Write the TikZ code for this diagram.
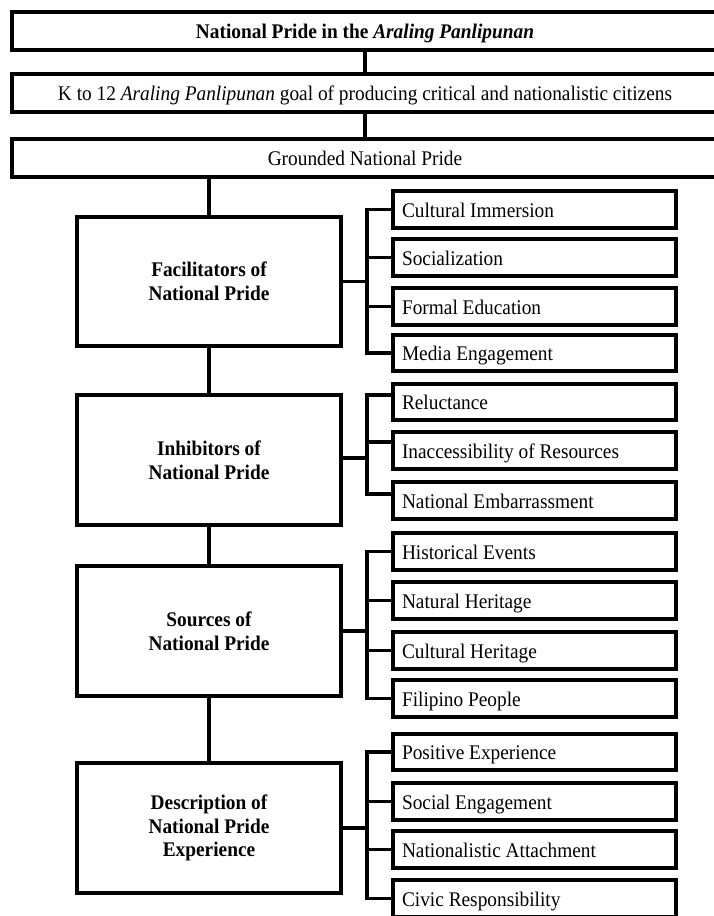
\documentclass[tikz,border=0pt]{standalone}
\usepackage{fontspec}
\setmainfont[FakeStretch=0.93]{Liberation Serif}
\begin{document}
\begin{tikzpicture}[x=1pt,y=-1pt,
  box/.style={draw=black, line width=4pt, fill=white, inner sep=0pt,
    font=\fontsize{20.8}{23.6}\selectfont},
  topbox/.style={box, minimum width=706pt, minimum height=38pt,
    text height=18pt, text depth=3pt},
  mainbox/.style={box, minimum width=264pt, minimum height=130pt, align=center,
    font=\fontsize{20.8}{23.6}\selectfont\bfseries},
  childbox/.style={box, text width=265pt, inner xsep=9pt, align=flush left,
    minimum height=37pt, text height=18pt, text depth=3pt},
  conn/.style={draw=black, line width=4pt},
  brk/.style={draw=black, line width=3.3pt}
]
\useasboundingbox (0,0) rectangle (714,916);
\fill[white] (0,0) rectangle (714,916);

% top boxes
\node[topbox] (t1) at (365,30.5) {\textbf{National Pride in the \textit{Araling Panlipunan}}};
\node[topbox] (t2) at (365,93) {K to 12 \textit{Araling Panlipunan} goal of producing critical and nationalistic citizens};
\node[topbox] (t3) at (365,157.5) {Grounded National Pride};

% main boxes
\node[mainbox, minimum height=129pt] (fac) at (209,281.5) {Facilitators of\\National Pride};
\node[mainbox] (inh) at (209,460) {Inhibitors of\\National Pride};
\node[mainbox] (src) at (209,631) {Sources of\\National Pride};
\node[mainbox] (des) at (209,828) {Description of\\National Pride\\Experience};

% child boxes
\node[childbox] (ci) at (534.5,209.5) {Cultural Immersion};
\node[childbox] (so) at (534.5,257.5) {Socialization};
\node[childbox] (fe) at (534.5,306.5) {Formal Education};
\node[childbox, minimum height=36pt] (me) at (534.5,353) {Media Engagement};
\node[childbox, minimum height=36pt] (re) at (534.5,402) {Reluctance};
\node[childbox] (ia) at (534.5,450.5) {Inaccessibility of Resources};
\node[childbox] (ne) at (534.5,500.5) {National Embarrassment};
\node[childbox] (he) at (534.5,551.5) {Historical Events};
\node[childbox] (nh) at (534.5,600.5) {Natural Heritage};
\node[childbox] (ch) at (534.5,650.5) {Cultural Heritage};
\node[childbox] (fp) at (534.5,698.5) {Filipino People};
\node[childbox, minimum height=36pt] (pe) at (534.5,752) {Positive Experience};
\node[childbox] (se) at (534.5,801.5) {Social Engagement};
\node[childbox] (na) at (534.5,849.5) {Nationalistic Attachment};
\node[childbox] (cr) at (534.5,898.5) {Civic Responsibility};

\coordinate (bx) at (367,0);

% vertical spine
\draw[conn] (t1.south) -- (t2.north);
\draw[conn] (t2.south) -- (t3.north);
\draw[conn] (t3.south -| fac.north) -- (fac.north);
\draw[conn] (fac.south) -- (inh.north);
\draw[conn] (inh.south) -- (src.north);
\draw[conn] (src.south) -- (des.north);

% facilitators bracket
\draw[brk] (fac.east) -- (fac.east -| bx);
\draw[brk] (ci.west) -- (ci.west -| bx) -- (me.west -| bx) -- (me.west);
\draw[brk] (so.west) -- (so.west -| bx);
\draw[brk] (fe.west) -- (fe.west -| bx);

% inhibitors bracket
\draw[brk] ([yshift=2pt]inh.east) -- ([yshift=2pt]inh.east -| bx);
\draw[brk] ([yshift=7pt]re.west) -- ([yshift=7pt]re.west -| bx) -- ([yshift=6.5pt]ne.west -| bx) -- ([yshift=6.5pt]ne.west);
\draw[brk] ([yshift=8.5pt]ia.west) -- ([yshift=8.5pt]ia.west -| bx);

% sources bracket
\draw[brk] (src.east) -- (src.east -| bx);
\draw[brk] (he.west) -- (he.west -| bx) -- (fp.west -| bx) -- (fp.west);
\draw[brk] (nh.west) -- (nh.west -| bx);
\draw[brk] (ch.west) -- (ch.west -| bx);

% description bracket
\draw[brk] (des.east) -- (des.east -| bx);
\draw[brk] (pe.west) -- (pe.west -| bx) -- (cr.west -| bx) -- (cr.west);
\draw[brk] (se.west) -- (se.west -| bx);
\draw[brk] (na.west) -- (na.west -| bx);
\end{tikzpicture}
\end{document}
